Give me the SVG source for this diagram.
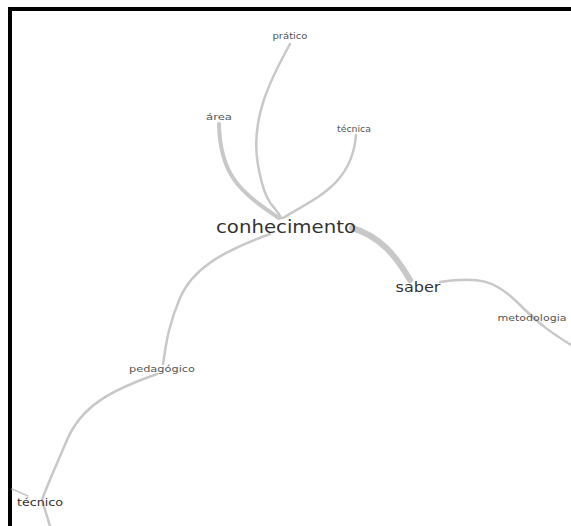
<svg xmlns="http://www.w3.org/2000/svg" width="571" height="526" viewBox="0 0 571 526">
<style>
.e{fill:none;stroke:#c8c8c8;stroke-linecap:round}
.t{font-family:"DejaVu Sans","Liberation Sans",sans-serif;fill:#333;text-anchor:middle}
.s{font-size:8.5px;fill:#555}
</style>
<rect width="571" height="526" fill="#fff"/>
<rect x="8" y="7" width="563" height="4" fill="#000"/>
<rect x="8" y="7" width="4" height="519" fill="#000"/>
<g id="connectors">
<path class="e" stroke-width="2.5" d="M290 44 C270 80,250 120,258 165 S276 205,281 218"/>
<path class="e" stroke-width="4" d="M219 124 C220 175,240 192,279 218"/>
<path class="e" stroke-width="2.5" d="M356 135 C352 185,315 198,283 218"/>
<path class="e" stroke-width="6" d="M352 228 C380 236,396 256,410 280"/>
<path class="e" stroke-width="2.5" d="M440 282 C478 276,495 280,518 303 S552 333,571 345"/>
<path class="e" stroke-width="2.5" d="M270 234 C220 252,192 270,180 298 S166 345,163 364"/>
<path class="e" stroke-width="2.5" d="M157 374 C112 390,82 405,67 440 S46 488,42 500 L50 526"/>
<path class="e" stroke-width="1.5" d="M12 489 L28 496"/>
</g>
<g id="node-pratico"><text class="t s" x="290" y="39" textLength="35" lengthAdjust="spacingAndGlyphs">prático</text></g>
<g id="node-area"><text class="t s" x="219" y="120" textLength="26" lengthAdjust="spacingAndGlyphs">área</text></g>
<g id="node-tecnica"><text class="t s" x="354" y="132" textLength="34" lengthAdjust="spacingAndGlyphs">técnica</text></g>
<g id="node-conhecimento"><text class="t" x="286" y="233" font-size="18.5" textLength="140" lengthAdjust="spacingAndGlyphs">conhecimento</text></g>
<g id="node-saber"><text class="t" x="418" y="292" font-size="14" textLength="45" lengthAdjust="spacingAndGlyphs">saber</text></g>
<g id="node-metodologia"><text class="t s" x="532" y="321" textLength="69" lengthAdjust="spacingAndGlyphs">metodologia</text></g>
<g id="node-pedagogico"><text class="t s" x="162" y="372" textLength="66" lengthAdjust="spacingAndGlyphs">pedagógico</text></g>
<g id="node-tecnico"><text class="t" x="40" y="506" font-size="10" textLength="46" lengthAdjust="spacingAndGlyphs">técnico</text></g>
</svg>
